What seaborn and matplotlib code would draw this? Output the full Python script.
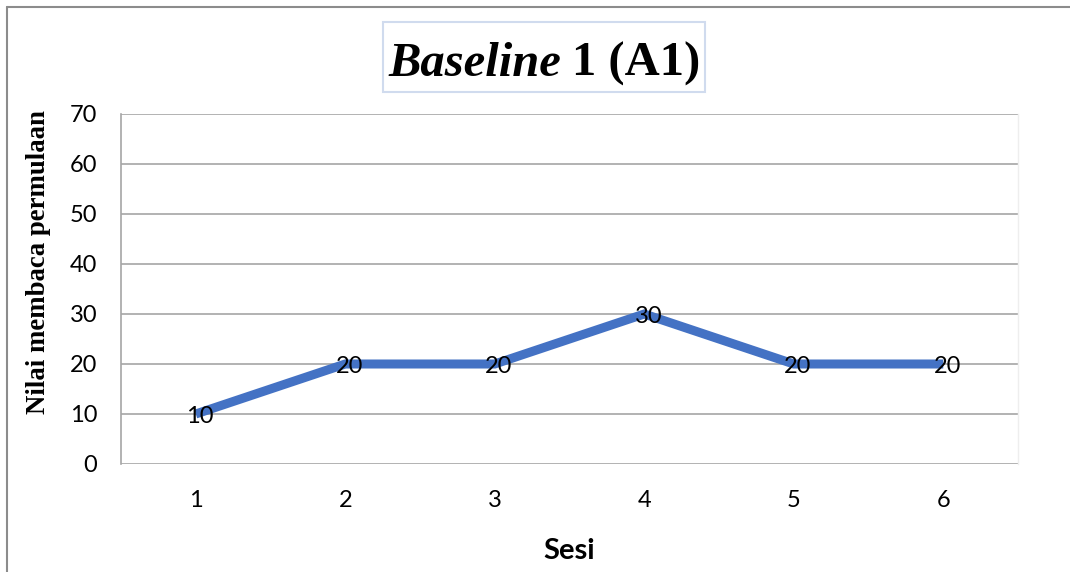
import matplotlib
matplotlib.use("Agg")
import matplotlib.pyplot as plt
from matplotlib.lines import Line2D
from matplotlib.patches import Rectangle
import seaborn as sns
import pandas as pd

# Session scores for the first baseline phase
sesi = [1, 2, 3, 4, 5, 6]
nilai = [10, 20, 20, 30, 20, 20]
y_ticks = [0, 10, 20, 30, 40, 50, 60, 70]

df = pd.DataFrame({"Sesi": sesi, "Nilai": nilai})

sns.set_theme(style="white")
plt.rcParams["font.family"] = ["Lato", "DejaVu Sans"]
plt.rcParams["text.color"] = "#000000"
plt.rcParams["axes.labelcolor"] = "#000000"

W, H = 1070, 572
fig = plt.figure(figsize=(W / 100, H / 100), dpi=100)
ax = fig.add_axes([121 / W, 1 - 464 / H, (1018 - 121) / W, (464 - 114) / H])

line_color = "#4472C4"
sns.lineplot(data=df, x="Sesi", y="Nilai", ax=ax, color=line_color,
             linewidth=6.5, solid_joinstyle="miter", solid_capstyle="butt")

ax.set_xlim(0.5, 6.5)
ax.set_ylim(0, 70)
ax.set_yticks(y_ticks)
ax.set_xticks(sesi)
ax.set_xticklabels([str(s) for s in sesi])
ax.tick_params(axis="both", length=0, labelsize=17, colors="#000000")
ax.tick_params(axis="y", pad=17)
ax.tick_params(axis="x", pad=19)
ax.yaxis.grid(True, color="#a6a6a6", linewidth=1.2)
ax.set_axisbelow(True)

for side in ["top", "bottom"]:
    ax.spines[side].set_visible(False)
ax.spines["left"].set_color("#a6a6a6")
ax.spines["left"].set_linewidth(1.2)
ax.spines["right"].set_color("#eeeeee")
ax.spines["right"].set_linewidth(1.0)

# Value labels on each point
for x, y in zip(sesi, nilai):
    ax.annotate(str(y), (x, y), xytext=(3, -1.5), textcoords="offset points",
                ha="center", va="center", fontsize=17, color="#000000")

ax.set_xlabel("Sesi", fontsize=21, fontweight="bold", labelpad=19,
              color="#000000")
ax.set_ylabel("Nilai membaca permulaan", fontsize=19.3, fontweight="bold",
              family="Liberation Serif", color="#000000", va="center")
ax.yaxis.set_label_coords(-0.0925, 0.577)

# Chart title in a framed box
fig.add_artist(Rectangle((383 / W, 1 - 92 / H), (705 - 383) / W, (92 - 22) / H,
                         transform=fig.transFigure, facecolor="white",
                         edgecolor="#d0dbee", linewidth=1.5))
t1 = fig.text(388 / W, 1 - 76 / H, "Baseline", fontsize=35, fontweight="bold",
              fontstyle="italic", family="Liberation Serif", ha="left",
              va="baseline", color="#000000")
fig.canvas.draw()
bb = t1.get_window_extent(renderer=fig.canvas.get_renderer())
fig.text(bb.x1 / W + 11 / W, 1 - 76 / H, "1 (A1)", fontsize=35,
         fontweight="bold", family="Liberation Serif", ha="left",
         va="baseline", color="#000000")

# Outer chart frame
frame_color = "#8c8c8c"
fig.add_artist(Line2D([7 / W, 1], [1 - 7 / H, 1 - 7 / H], transform=fig.transFigure,
                      color=frame_color, linewidth=1.5))
fig.add_artist(Line2D([7 / W, 7 / W], [0, 1 - 7 / H], transform=fig.transFigure,
                      color=frame_color, linewidth=1.5))

fig.savefig("out.png", dpi=100)
